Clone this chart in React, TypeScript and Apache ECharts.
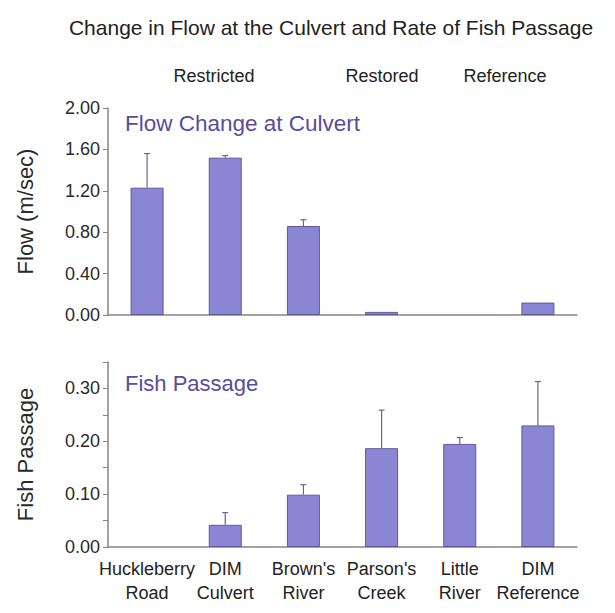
import { useEffect, useRef } from "react";
import * as echarts from "echarts";

// Sites along the x axis (two-line labels)
const sites = [
  "Huckleberry\nRoad",
  "DIM\nCulvert",
  "Brown's\nRiver",
  "Parson's\nCreek",
  "Little\nRiver",
  "DIM\nReference",
];

// Flow change at the culvert (m/sec): mean and upper error
const flowMean = [1.23, 1.52, 0.86, 0.03, 0.0, 0.12];
const flowErr = [0.33, 0.02, 0.06, 0, 0, 0];

// Fish passage rate: mean and upper error
const fishMean = [0, 0.042, 0.099, 0.187, 0.195, 0.23];
const fishErr = [0, 0.023, 0.019, 0.072, 0.012, 0.083];

// Site group headings
const groups = ["Restricted", "Restored", "Reference"];

const FONT = "'Liberation Sans', Arial, Helvetica, sans-serif";
const BAR_FILL = "#8a86d3";
const BAR_EDGE = "#5e5a99";
const AXIS = "#8c8282";
const PURPLE = "#5a4b9d";

// Zero-height bars are drawn without an outline
const barData = (vals: number[]) =>
  vals.map((v) => (v === 0 ? { value: v, itemStyle: { borderWidth: 0 } } : v));

function errorSeries(xIdx: number, mean: number[], err: number[]) {
  return {
    type: "custom",
    xAxisIndex: xIdx,
    yAxisIndex: xIdx,
    z: 5,
    encode: { x: 0, y: 1 },
    data: mean.map((m, i) => [i, m, err[i]]),
    renderItem: (_params: any, api: any) => {
      const i = api.value(0);
      const v = api.value(1);
      const e = api.value(2);
      if (!e) return null;
      const base = api.coord([i, v]);
      const top = api.coord([i, v + e]);
      const style = { stroke: "#6a6592", lineWidth: 1.2 };
      return {
        type: "group",
        children: [
          { type: "line", shape: { x1: base[0], y1: base[1], x2: top[0], y2: top[1] }, style },
          { type: "line", shape: { x1: top[0] - 3, y1: top[1], x2: top[0] + 3, y2: top[1] }, style },
        ],
      };
    },
  };
}

export default function App() {
  const ref = useRef<HTMLDivElement>(null);

  useEffect(() => {
    if (!ref.current) return;
    const chart = echarts.init(ref.current, undefined, { renderer: "svg" });

    const yAxisBase = {
      type: "value",
      min: 0,
      splitLine: { show: false },
      axisLine: { show: true, lineStyle: { color: AXIS, width: 1.5 } },
      axisTick: { show: true, length: 5, lineStyle: { color: AXIS } },
      nameLocation: "middle",
      nameRotate: 90,
      nameGap: 72,
      nameTextStyle: { fontFamily: FONT, fontSize: 22, color: "#2a2a2a" },
      axisLabel: { fontFamily: FONT, fontSize: 18, color: "#2a2a2a", margin: 8 },
    };

    chart.setOption({
      animation: false,
      backgroundColor: "#ffffff",
      textStyle: { fontFamily: FONT },
      grid: [
        { left: 108, top: 108, width: 469, height: 207 },
        { left: 108, top: 362, width: 469, height: 185 },
      ],
      xAxis: [
        {
          type: "category",
          gridIndex: 0,
          data: sites,
          axisLine: { show: true, lineStyle: { color: AXIS, width: 1.5 } },
          axisTick: { show: false },
          axisLabel: { show: false },
        },
        {
          type: "category",
          gridIndex: 1,
          data: sites,
          axisLine: { show: true, lineStyle: { color: AXIS, width: 1.5 } },
          axisTick: { show: false },
          axisLabel: {
            interval: 0,
            fontFamily: FONT,
            fontSize: 18,
            lineHeight: 24,
            color: "#222222",
            margin: 10,
          },
        },
      ],
      yAxis: [
        {
          ...yAxisBase,
          gridIndex: 0,
          max: 2,
          interval: 0.4,
          name: "Flow (m/sec)",
          axisLabel: { ...yAxisBase.axisLabel, formatter: (v: number) => v.toFixed(2) },
        },
        {
          ...yAxisBase,
          gridIndex: 1,
          max: 0.35,
          interval: 0.05,
          name: "Fish Passage",
          axisLabel: {
            ...yAxisBase.axisLabel,
            formatter: (v: number) => (Math.round(v * 100) % 10 === 0 ? v.toFixed(2) : ""),
          },
        },
      ],
      graphic: [
        {
          type: "text",
          x: 331,
          y: 27,
          style: {
            text: "Change in Flow at the Culvert and Rate of Fish Passage",
            fontFamily: FONT,
            fontSize: 21,
            fill: "#222222",
            textAlign: "center",
            textVerticalAlign: "middle",
          },
        },
        ...groups.map((g, k) => ({
          type: "text",
          x: [214, 382, 505][k],
          y: 76,
          style: {
            text: g,
            fontFamily: FONT,
            fontSize: 18,
            fill: "#222222",
            textAlign: "center",
            textVerticalAlign: "middle",
          },
        })),
        {
          type: "text",
          x: 125,
          y: 123,
          style: {
            text: "Flow Change at Culvert",
            fontFamily: FONT,
            fontSize: 22.5,
            fill: PURPLE,
            textVerticalAlign: "middle",
          },
        },
        {
          type: "text",
          x: 125,
          y: 383,
          style: {
            text: "Fish Passage",
            fontFamily: FONT,
            fontSize: 22,
            fill: PURPLE,
            textVerticalAlign: "middle",
          },
        },
      ],
      series: [
        {
          type: "bar",
          xAxisIndex: 0,
          yAxisIndex: 0,
          data: barData(flowMean),
          barWidth: 33,
          itemStyle: { color: BAR_FILL, borderColor: BAR_EDGE, borderWidth: 1 },
        },
        errorSeries(0, flowMean, flowErr),
        {
          type: "bar",
          xAxisIndex: 1,
          yAxisIndex: 1,
          data: barData(fishMean),
          barWidth: 33,
          itemStyle: { color: BAR_FILL, borderColor: BAR_EDGE, borderWidth: 1 },
        },
        errorSeries(1, fishMean, fishErr),
      ],
    });

    return () => chart.dispose();
  }, []);

  return (
    <div
      ref={ref}
      style={{ position: "fixed", left: 0, top: 0, width: 615, height: 613 }}
    />
  );
}
